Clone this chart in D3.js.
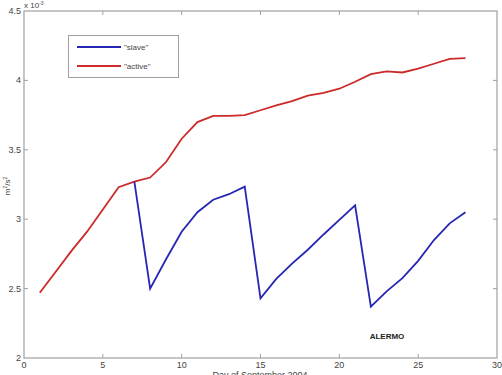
<!DOCTYPE html>
<html>
<head>
<meta charset="utf-8">
<script src="https://cdn.jsdelivr.net/npm/d3@7"></script>
<style>
  body { margin: 0; background: #fff; }
  svg { display: block; font-family: Arial, "Liberation Sans", sans-serif; }
</style>
</head>
<body>
<div id="chart"></div>
<script>
  // values are in units of 1e-3 m^2/s^2
  var activeDays = [1, 2, 3, 4, 5, 6, 7, 8, 9, 10, 11, 12, 13, 14, 15, 16, 17, 18, 19, 20, 21, 22, 23, 24, 25, 26, 27, 28];
  var activeValues = [2.47, 2.62, 2.77, 2.91, 3.07, 3.23, 3.27, 3.30, 3.41, 3.58, 3.70, 3.745, 3.745, 3.75, 3.785, 3.82, 3.85, 3.89, 3.91, 3.94, 3.99, 4.045, 4.065, 4.057, 4.085, 4.12, 4.155, 4.16];
  var slaveDays = [7, 8, 9, 10, 11, 12, 13, 14, 15, 16, 17, 18, 19, 20, 21, 22, 23, 24, 25, 26, 27, 28];
  var slaveValues = [3.27, 2.50, 2.71, 2.91, 3.05, 3.14, 3.18, 3.235, 2.43, 2.57, 2.68, 2.78, 2.89, 2.995, 3.10, 2.37, 2.48, 2.575, 2.70, 2.85, 2.97, 3.05];
  var xTicks = [0, 5, 10, 15, 20, 25, 30];
  var yTicks = [2, 2.5, 3, 3.5, 4, 4.5];
  var seriesNames = ['"slave"', '"active"'];

(function() {
  'use strict';

  var width = 502, height = 375;
  var mLeft = 24, mRight = 497, mTop = 11, mBottom = 358;

  var x = d3.scaleLinear().domain([0, 30]).range([mLeft, mRight]);
  var y = d3.scaleLinear().domain([2, 4.5]).range([mBottom, mTop]);

  var svg = d3.select('#chart').append('svg').attr('width', width).attr('height', height);

  var axisColor = '#a0a0a0', textColor = '#444';

  svg.append('rect').attr('x', mLeft).attr('y', mTop).attr('width', mRight - mLeft).attr('height', mBottom - mTop)
    .attr('fill', 'none').attr('stroke', axisColor).attr('stroke-width', 1.2);

  var tickLen = 4;
  // inward ticks on all four sides
  svg.append('g').selectAll('line').data(xTicks.slice(1, -1)).enter().append('line')
    .attr('x1', function(d) { return x(d); }).attr('x2', function(d) { return x(d); })
    .attr('y1', mBottom).attr('y2', mBottom - tickLen).attr('stroke', axisColor);
  svg.append('g').selectAll('line').data(xTicks.slice(1, -1)).enter().append('line')
    .attr('x1', function(d) { return x(d); }).attr('x2', function(d) { return x(d); })
    .attr('y1', mTop).attr('y2', mTop + tickLen).attr('stroke', axisColor);
  svg.append('g').selectAll('line').data(yTicks.slice(1, -1)).enter().append('line')
    .attr('y1', function(d) { return y(d); }).attr('y2', function(d) { return y(d); })
    .attr('x1', mLeft).attr('x2', mLeft + tickLen).attr('stroke', axisColor);
  svg.append('g').selectAll('line').data(yTicks.slice(1, -1)).enter().append('line')
    .attr('y1', function(d) { return y(d); }).attr('y2', function(d) { return y(d); })
    .attr('x1', mRight).attr('x2', mRight - tickLen).attr('stroke', axisColor);

  svg.append('g').selectAll('text').data(xTicks).enter().append('text')
    .attr('x', function(d) { return x(d); }).attr('y', mBottom + 10)
    .attr('text-anchor', 'middle').attr('font-size', 9).attr('fill', textColor)
    .text(function(d) { return d; });

  svg.append('g').selectAll('text').data(yTicks).enter().append('text')
    .attr('x', mLeft - 3).attr('y', function(d) { return y(d) + 3; })
    .attr('text-anchor', 'end').attr('font-size', 9).attr('fill', textColor)
    .text(function(d) { return d; });

  // exponent label
  var ex = svg.append('text').attr('x', mLeft).attr('y', 8).attr('font-size', 8).attr('fill', textColor);
  ex.append('tspan').text('x 10');
  ex.append('tspan').attr('dy', -3).attr('font-size', 5).text('-3');

  // y axis label
  var yl = svg.append('text').attr('transform', 'translate(10,186) rotate(-90)')
    .attr('text-anchor', 'middle').attr('font-size', 8).attr('fill', textColor);
  yl.append('tspan').text('m');
  yl.append('tspan').attr('dy', -3).attr('font-size', 5).text('2');
  yl.append('tspan').attr('dy', 3).text('/s');
  yl.append('tspan').attr('dy', -3).attr('font-size', 5).text('2');

  svg.append('text').attr('x', 260).attr('y', 378)
    .attr('text-anchor', 'middle').attr('font-size', 9).attr('fill', textColor)
    .text('Day of September 2004');

  svg.append('text').attr('x', 387).attr('y', 339)
    .attr('text-anchor', 'middle').attr('font-size', 8).attr('font-weight', 'bold').attr('fill', '#222')
    .text('ALERMO');

  var line = d3.line().x(function(d) { return x(d[0]); }).y(function(d) { return y(d[1]); });

  svg.append('path').datum(activeDays.map(function(d, i) { return [d, activeValues[i]]; }))
    .attr('d', line).attr('fill', 'none').attr('stroke', '#cc2a2a').attr('stroke-width', 1.8);
  svg.append('path').datum(slaveDays.map(function(d, i) { return [d, slaveValues[i]]; }))
    .attr('d', line).attr('fill', 'none').attr('stroke', '#2626b4').attr('stroke-width', 1.8);

  // legend
  var lg = svg.append('g');
  lg.append('rect').attr('x', 68.5).attr('y', 35.5).attr('width', 110).attr('height', 42)
    .attr('fill', '#fff').attr('stroke', axisColor);
  var legendColors = ['#2626b4', '#cc2a2a'];
  lg.selectAll('line').data(seriesNames).enter().append('line')
    .attr('x1', 77).attr('x2', 121)
    .attr('y1', function(d, i) { return 47 + i * 19; }).attr('y2', function(d, i) { return 47 + i * 19; })
    .attr('stroke', function(d, i) { return legendColors[i]; }).attr('stroke-width', 1.8);
  lg.selectAll('text').data(seriesNames).enter().append('text')
    .attr('x', 124).attr('y', function(d, i) { return 50 + i * 19; })
    .attr('font-size', 8).attr('fill', textColor)
    .text(function(d) { return d; });
}).call(this);
</script>
</body>
</html>
